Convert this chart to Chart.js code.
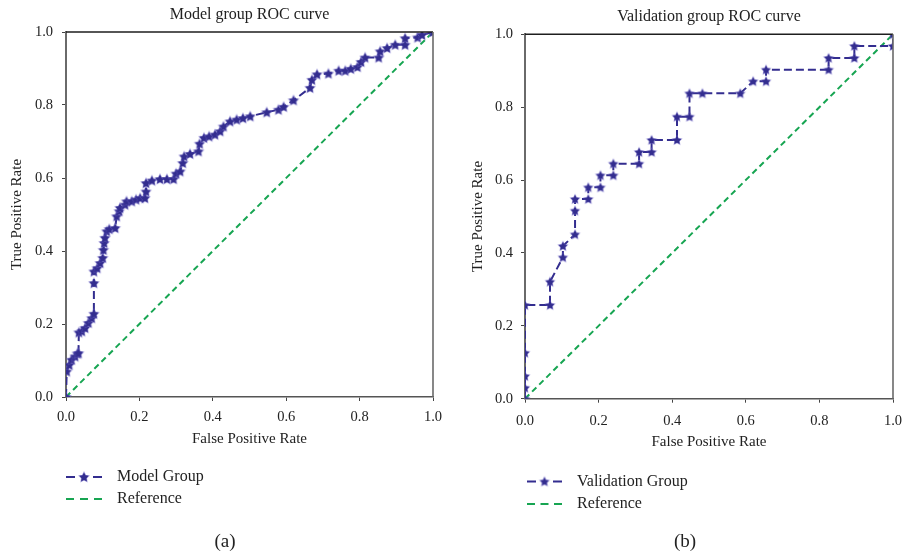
<!DOCTYPE html>
<html>
<head>
<meta charset="utf-8">
<script src="https://cdn.jsdelivr.net/npm/chart.js@4.4.1/dist/chart.umd.min.js"></script>
<style>
  html, body { margin: 0; padding: 0; background: #fff; }
  #wrap { position: relative; width: 902px; height: 553px; background: #fff; overflow: hidden; }
  canvas { position: absolute; top: 0; }
  .cap { position: absolute; width: 80px; text-align: center; font-family: 'Liberation Serif', serif; font-size: 19px; color: #222; line-height: 22px; }
</style>
</head>
<body>
<div id="wrap">
  <canvas id="c1" width="451" height="553" style="left:0"></canvas>
  <canvas id="c2" width="451" height="553" style="left:451px"></canvas>
  <div class="cap" style="left:185px; top:530px;">(a)</div>
  <div class="cap" style="left:645px; top:530px;">(b)</div>
</div>
<script>
// ---------------- data ----------------
const modelFPR = [0, 0.002, 0.009, 0.015, 0.025, 0.031, 0.034, 0.035, 0.043, 0.052, 0.061, 0.070, 0.076,
  0.076, 0.076, 0.085, 0.093, 0.100, 0.102, 0.104, 0.106, 0.111, 0.118, 0.134, 0.138, 0.145, 0.147,
  0.161, 0.165, 0.179, 0.191, 0.202, 0.215, 0.218, 0.218, 0.234, 0.256, 0.275, 0.293, 0.300, 0.311,
  0.318, 0.322, 0.338, 0.361, 0.364, 0.376, 0.390, 0.406, 0.420, 0.429, 0.447, 0.465, 0.482, 0.502,
  0.547, 0.579, 0.593, 0.620, 0.665, 0.670, 0.684, 0.715, 0.743, 0.761, 0.776, 0.794, 0.804, 0.815,
  0.852, 0.856, 0.875, 0.897, 0.924, 0.924, 0.958, 0.970, 1.0];
const modelTPR = [0, 0.070, 0.088, 0.102, 0.111, 0.119, 0.120, 0.177, 0.180, 0.189, 0.203, 0.216, 0.228,
  0.312, 0.344, 0.353, 0.367, 0.381, 0.403, 0.422, 0.436, 0.454, 0.460, 0.463, 0.495, 0.509, 0.518,
  0.527, 0.536, 0.536, 0.541, 0.545, 0.545, 0.563, 0.586, 0.593, 0.597, 0.597, 0.597, 0.612, 0.618,
  0.641, 0.659, 0.666, 0.673, 0.694, 0.710, 0.714, 0.719, 0.728, 0.741, 0.755, 0.760, 0.764, 0.769,
  0.780, 0.787, 0.795, 0.813, 0.847, 0.869, 0.884, 0.886, 0.894, 0.894, 0.899, 0.904, 0.918, 0.930,
  0.930, 0.947, 0.956, 0.965, 0.965, 0.983, 0.985, 0.992, 1.0];

const validFPR = [0, 0, 0, 0, 0, 0.068, 0.068, 0.103, 0.103, 0.136, 0.136, 0.136, 0.172, 0.172, 0.205,
  0.205, 0.240, 0.240, 0.310, 0.310, 0.344, 0.344, 0.413, 0.413, 0.447, 0.447, 0.482, 0.585, 0.620,
  0.655, 0.655, 0.825, 0.825, 0.895, 0.895, 1.0, 1.0];
const validTPR = [0, 0.030, 0.062, 0.126, 0.257, 0.257, 0.321, 0.388, 0.419, 0.451, 0.516, 0.548, 0.548,
  0.580, 0.580, 0.613, 0.613, 0.645, 0.645, 0.677, 0.677, 0.710, 0.710, 0.774, 0.774, 0.838, 0.838,
  0.838, 0.871, 0.871, 0.903, 0.903, 0.935, 0.935, 0.968, 0.968, 1.0];

const refFPR = [0, 1];
const refTPR = [0, 1];

const tickValues = [0, 0.2, 0.4, 0.6, 0.8, 1.0];

const titles = ['Model group ROC curve', 'Validation group ROC curve'];
const seriesLabels = ['Model Group', 'Validation Group'];
const refLabel = 'Reference';
const xTitle = 'False Positive Rate';
const yTitle = 'True Positive Rate';

// ---------------- styles ----------------
const NAVY = '#332d8f';
const GREEN = '#17a552';
const FONT = "'Liberation Serif', 'Times New Roman', serif";
const TXT = '#222';

function makeStar(r, color) {
  const s = Math.ceil(r * 2) + 4;
  const c = document.createElement('canvas');
  c.width = s; c.height = s;
  const g = c.getContext('2d');
  g.beginPath();
  for (let i = 0; i < 10; i++) {
    const rad = i % 2 === 0 ? r : r * 0.52;
    const a = -Math.PI / 2 + i * Math.PI / 5;
    g.lineTo(s / 2 + rad * Math.cos(a), s / 2 + rad * Math.sin(a) + 0.4);
  }
  g.closePath();
  g.lineWidth = 1.2;
  g.strokeStyle = 'rgba(110,100,200,0.55)';
  g.stroke();
  g.fillStyle = color;
  g.fill();
  return c;
}

const zip = (xs, ys) => xs.map((x, i) => ({ x: x, y: ys[i] }));

function framePlugin() {
  return {
    id: 'frame',
    afterDatasetsDraw(chart) {
      const { ctx, chartArea: a } = chart;
      ctx.save();
      ctx.lineWidth = 1.6;
      ctx.strokeStyle = '#1e1e1e';
      ctx.beginPath(); ctx.moveTo(a.left, a.top); ctx.lineTo(a.right, a.top); ctx.stroke();
      ctx.strokeStyle = '#6a6a6a';
      ctx.beginPath(); ctx.moveTo(a.right, a.top); ctx.lineTo(a.right, a.bottom); ctx.stroke();
      ctx.restore();
    }
  };
}

function legendPlugin(cfg) {
  return {
    id: 'customLegend',
    afterDraw(chart) {
      const ctx = chart.ctx;
      chart.data.datasets.forEach((ds, i) => {
        const y = cfg.ys[i];
        ctx.save();
        ctx.strokeStyle = ds.borderColor;
        ctx.lineWidth = 1.8;
        ctx.setLineDash(cfg.dashes[i]);
        ctx.beginPath();
        ctx.moveTo(cfg.x1, y);
        ctx.lineTo(cfg.x2, y);
        ctx.stroke();
        if (ds.pointStyle && ds.pointStyle.width) {
          const img = ds.pointStyle;
          ctx.drawImage(img, (cfg.x1 + cfg.x2) / 2 - img.width / 2, y - img.height / 2);
        }
        ctx.fillStyle = TXT;
        ctx.font = '16px ' + FONT;
        ctx.textBaseline = 'middle';
        ctx.textAlign = 'left';
        ctx.fillText(ds.label, cfg.tx, y);
        ctx.restore();
      });
    }
  };
}

function buildChart(canvasId, idx, xs, ys, geo) {
  const star = makeStar(geo.starR, NAVY);
  const tickFmt = (v) => Number(v).toFixed(1);
  const noPad = (s) => { s.paddingLeft = 0; s.paddingRight = 0; s.paddingTop = 0; s.paddingBottom = 0; };
  return new Chart(document.getElementById(canvasId), {
    type: 'line',
    data: {
      datasets: [
        {
          label: seriesLabels[idx],
          data: zip(xs, ys),
          borderColor: NAVY,
          backgroundColor: NAVY,
          borderWidth: 2,
          borderDash: [8, 4],
          pointStyle: star,
          pointRadius: 4,
          tension: 0,
          fill: false
        },
        {
          label: refLabel,
          data: zip(refFPR, refTPR),
          borderColor: GREEN,
          backgroundColor: GREEN,
          borderWidth: 2,
          borderDash: [6, 4],
          pointRadius: 0,
          tension: 0,
          fill: false
        }
      ]
    },
    options: {
      responsive: false,
      animation: false,
      devicePixelRatio: 1,
      layout: { padding: { left: 0, right: geo.padRight, top: 0, bottom: 93 } },
      plugins: {
        legend: { display: false },
        tooltip: { enabled: false },
        title: {
          display: true,
          fullSize: false,
          text: titles[idx],
          color: TXT,
          font: { family: FONT, size: 16, weight: 'normal', lineHeight: 1.2 },
          padding: { top: geo.titleTop, bottom: geo.titleBottom }
        }
      },
      scales: {
        x: {
          type: 'linear',
          min: 0, max: 1,
          afterBuildTicks: (s) => { s.ticks = tickValues.map(v => ({ value: v })); },
          afterFit: (s) => { s.height = geo.xHeight; noPad(s); },
          ticks: { callback: tickFmt, color: TXT, font: { family: FONT, size: 14.5 }, padding: geo.xTickPad, maxRotation: 0, autoSkip: false },
          grid: { drawOnChartArea: false, drawTicks: true, tickLength: 4, color: '#444', lineWidth: 1 },
          border: { display: true, color: '#555', width: 1.6 },
          title: { display: true, text: xTitle, color: TXT, font: { family: FONT, size: 15 }, padding: { top: 0, bottom: geo.xTitlePad } }
        },
        y: {
          type: 'linear',
          min: 0, max: 1,
          afterBuildTicks: (s) => { s.ticks = tickValues.map(v => ({ value: v })); },
          afterFit: (s) => { s.width = geo.yWidth; noPad(s); },
          ticks: { callback: tickFmt, color: TXT, font: { family: FONT, size: 14.5 }, padding: geo.yTickPad, autoSkip: false },
          grid: { drawOnChartArea: false, drawTicks: true, tickLength: 4, color: '#444', lineWidth: 1 },
          border: { display: true, color: '#6a6a6a', width: 2 },
          title: { display: true, text: yTitle, color: TXT, font: { family: FONT, size: 15 }, padding: { top: geo.yTitlePad, bottom: 0 } }
        }
      }
    },
    plugins: [framePlugin(), legendPlugin(geo.legend)]
  });
}

buildChart('c1', 0, modelFPR, modelTPR, {
  starR: 5.0, padRight: 18, titleTop: 5, titleBottom: 7.8, xHeight: 63, xTickPad: 7, xTitlePad: 12,
  yWidth: 66, yTickPad: 9, yTitlePad: 8,
  legend: { x1: 66, x2: 102, tx: 117, ys: [477, 499], dashes: [[9, 18], [8, 6]] }
});

buildChart('c2', 1, validFPR, validTPR, {
  starR: 4.6, padRight: 9, titleTop: 7, titleBottom: 8.1, xHeight: 61.3, xTickPad: 10, xTitlePad: 9,
  yWidth: 74, yTickPad: 8, yTitlePad: 18,
  legend: { x1: 76, x2: 111, tx: 126, ys: [481.5, 504], dashes: [[9, 17], [8, 5.5]] }
});
</script>
</body>
</html>
